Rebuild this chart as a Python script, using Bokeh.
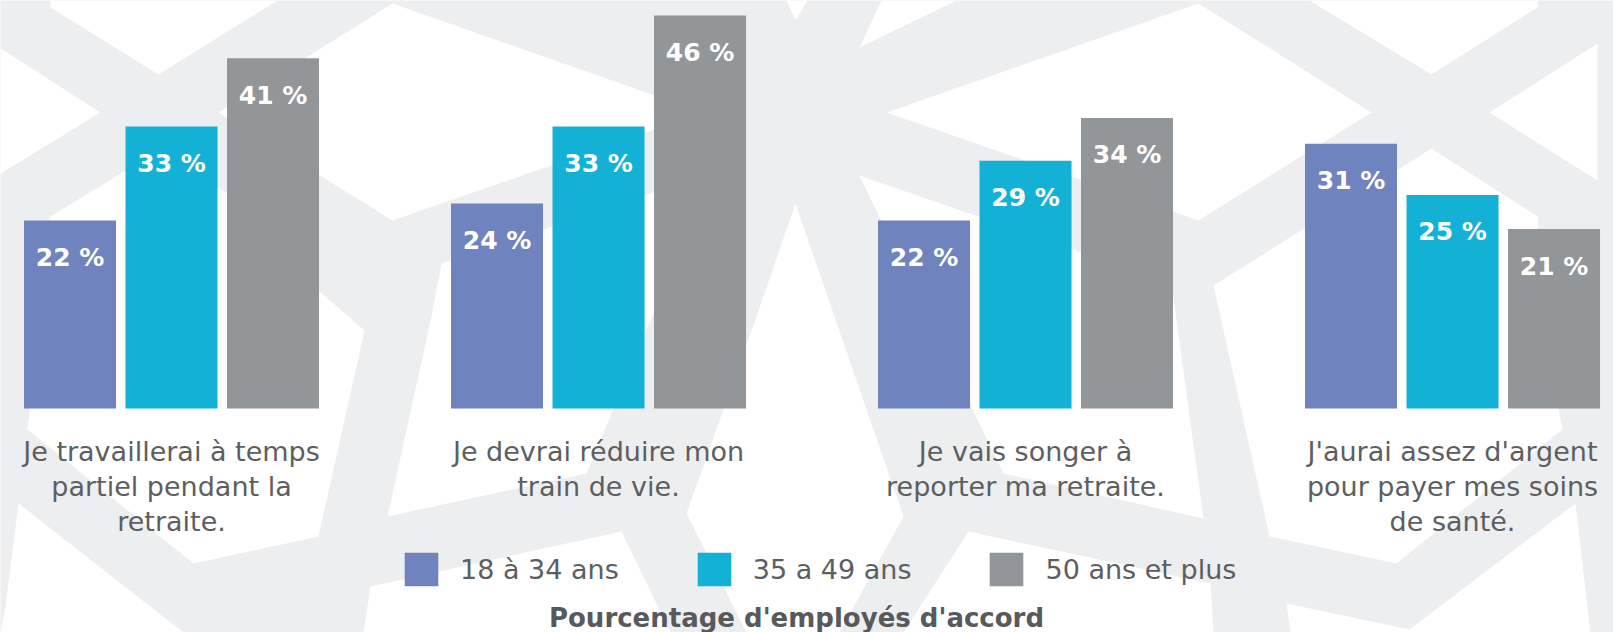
from bokeh.plotting import figure
from bokeh.models import ColumnDataSource, Range1d, Legend, LegendItem, Label
from bokeh.transform import dodge
from bokeh.core.properties import value
from bokeh.embed import file_html
from bokeh.resources import INLINE

# ---------------- data ----------------
categories = [
    "Je travaillerai à temps\npartiel pendant la\nretraite.",
    "Je devrai réduire mon\ntrain de vie.",
    "Je vais songer à\nreporter ma retraite.",
    "J'aurai assez d'argent\npour payer mes soins\nde santé.",
]
series_names = ["18 à 34 ans", "35 a 49 ans", "50 ans et plus"]
age_18_34 = [22, 24, 22, 31]
age_35_49 = [33, 33, 29, 25]
age_50_plus = [41, 46, 34, 21]
axis_title = "Pourcentage d'employés d'accord"

# ---------------- style ----------------
colors = ["#6f83bf", "#14b1d7", "#939699"]
BAND = "#edeef0"
TEXT = "#5d5e60"
FONT = "DejaVu Sans"
W, H = 1613, 632

# decorative background tiles (white shapes over the light grey lattice), page pixels
bg_tiles = [
    [(50, 0), (277, 0), (158, 74), (50, 7)],
    [(0, 48), (100, 112), (0, 173)],
    [(218, 112), (392, 3), (703, 112), (392, 220)],
    [(786, 0), (807, 0), (795, 20)],
    [(881, 0), (956, 0), (859, 47)],
    [(886, 112), (1198, 3), (1371, 112), (1198, 220)],
    [(1309, 0), (1537, 0), (1537, 7), (1431, 74)],
    [(1489, 112), (1597, 43), (1597, 180)],
    [(50, 216), (158, 150), (277, 224), (318, 290), (364, 330), (318, 536), (193, 563), (27, 429)],
    [(18, 503), (183, 632), (0, 632), (5, 606)],
    [(441, 263), (712, 172), (586, 473), (387, 516), (431, 316)],
    [(370, 586), (621, 531), (670, 632), (363, 632)],
    [(795, 203), (903, 516), (839, 632), (746, 632), (686, 513), (756, 316)],
    [(859, 175), (1171, 283), (1203, 518), (1003, 473)],
    [(968, 531), (1210, 583), (1213, 632), (903, 632)],
    [(1213, 285), (1431, 148), (1537, 216), (1542, 316), (1562, 429), (1396, 563), (1269, 536)],
    [(1286, 603), (1409, 629), (1575, 503), (1590, 632), (1290, 632)],
]

positions = list(range(len(categories)))

src = ColumnDataSource(dict(
    pos=positions,
    cat=categories,
    s0=age_18_34, s1=age_35_49, s2=age_50_plus,
    l0=[f"{v} %" for v in age_18_34],
    l1=[f"{v} %" for v in age_35_49],
    l2=[f"{v} %" for v in age_50_plus],
))

p = figure(width=W, height=H, output_backend="svg", toolbar_location=None,
           x_range=Range1d(-0.4005, 3.3770), y_range=Range1d(-26.21, 47.75),
           x_axis_location=None, y_axis_location=None, min_border=0,
           background_fill_color=BAND, border_fill_color=BAND,
           outline_line_color=None)
p.grid.visible = False

p.extra_x_ranges = {"px": Range1d(0, W)}
p.extra_y_ranges = {"px": Range1d(H, 0)}
p.patches(xs=[[pt[0] for pt in t] for t in bg_tiles],
          ys=[[pt[1] for pt in t] for t in bg_tiles],
          x_range_name="px", y_range_name="px",
          fill_color="white", line_color=None)

offsets = [-0.2377, 0.0, 0.2377]
bar_w = 0.2155
items = []
for i, (name, col, off) in enumerate(zip(series_names, colors, offsets)):
    xs = dodge("pos", off, range=p.x_range)
    r = p.vbar(x=xs, top=f"s{i}", bottom=0, width=bar_w, source=src,
               fill_color=col, line_color=None)
    items.append(LegendItem(label=name, renderers=[r]))
    p.text(x=xs, y=f"s{i}", text=f"l{i}", source=src, y_offset=37,
           text_align="center", text_baseline="middle", text_color="white",
           text_font=value(FONT), text_font_style="bold", text_font_size="25px")

p.text(x="pos", y=0, text="cat", source=src, y_offset=27,
       text_align="center", text_baseline="top", text_color=TEXT,
       text_font=value(FONT), text_font_size="27px", text_line_height=1.14)

legend = Legend(items=items, orientation="horizontal", location=(400, 42),
                glyph_width=42, glyph_height=42, label_standoff=18, spacing=74,
                padding=0, margin=0, border_line_color=None,
                background_fill_alpha=0, label_text_font=FONT,
                label_text_font_size="27px", label_text_color=TEXT)
p.add_layout(legend)

p.add_layout(Label(x=796, y=15, x_units="screen", y_units="screen", text=axis_title,
                   text_align="center", text_baseline="middle",
                   text_font=FONT, text_font_style="bold", text_font_size="26px",
                   text_color="#58595b"))

open("out.html", "w").write(file_html(p, INLINE))
